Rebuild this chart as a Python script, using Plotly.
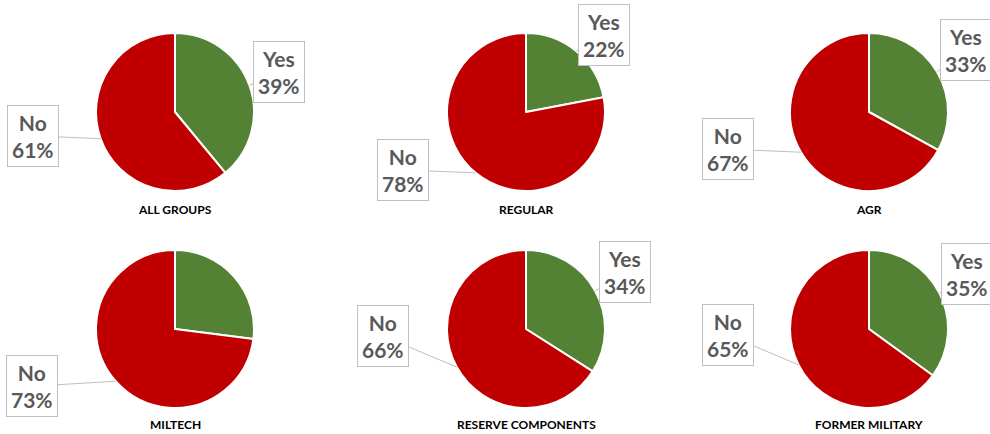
import math
import plotly.graph_objects as go

# ---------------- data ----------------
groups = ["ALL GROUPS", "REGULAR", "AGR", "MILTECH", "RESERVE COMPONENTS", "FORMER MILITARY"]
slice_labels = ["Yes", "No"]
yes_pct = [39, 22, 33, 27, 34, 35]
no_pct = [61, 78, 67, 73, 66, 65]
show_yes_label = [True, True, True, False, True, True]
show_no_label = [True, True, True, True, True, True]

# ---------------- layout / style ----------------
W, H = 990, 434
GREEN = "#548235"
RED = "#C00000"
LABEL_GREY = "#595959"
BOX_GREY = "#BFBFBF"
FONT = "Lato"

centers = [(175, 112), (526, 112), (869, 112), (175, 329), (526, 329), (869, 329)]
R = 79
title_y = [209, 209, 209, 424, 424, 424]
# pixel offsets (label centre relative to slice edge point) per panel: (yes, no)
label_offsets = [
    ((30, -13), (-68, -3)),
    ((28, -16), (-73, -3)),
    ((29, -22), (-73, -3)),
    ((29, -18), (-84, 5)),
    ((30, -19), (-74, -31)),
    ((28, -19), (-71, -30)),
]

fig = go.Figure()
annotations = []

for i, g in enumerate(groups):
    cx, cy = centers[i]
    vals = [yes_pct[i], no_pct[i]]
    fig.add_trace(go.Pie(
        labels=slice_labels,
        values=vals,
        sort=False,
        direction="clockwise",
        rotation=0,
        marker=dict(colors=[GREEN, RED], line=dict(color="white", width=2)),
        textinfo="none",
        hoverinfo="label+percent",
        showlegend=False,
        domain=dict(x=[(cx - R) / W, (cx + R) / W],
                    y=[(H - cy - R) / H, (H - cy + R) / H]),
    ))

    total = sum(vals)
    cum = 0.0
    for j, v in enumerate(vals):
        frac_mid = (cum + v / 2) / total
        cum += v
        show = show_yes_label[i] if j == 0 else show_no_label[i]
        if not show:
            continue
        theta = 2 * math.pi * frac_mid
        px = cx + R * math.sin(theta)
        py = cy - R * math.cos(theta)
        ox, oy = label_offsets[i][j]
        pct = round(100 * v / total)
        annotations.append(dict(
            x=px / W, y=(H - py) / H, xref="paper", yref="paper",
            text=f"{slice_labels[j]}<br>{pct}%",
            showarrow=True, arrowhead=0, arrowwidth=1, arrowcolor=BOX_GREY,
            ax=ox, ay=oy,
            font=dict(family=FONT, size=21, color=LABEL_GREY, weight="bold"),
            bgcolor="white", bordercolor=BOX_GREY, borderwidth=1, borderpad=4,
            align="center",
        ))

    annotations.append(dict(
        x=cx / W, y=(H - title_y[i]) / H, xref="paper", yref="paper",
        text=f"<b>{g}</b>", showarrow=False, xanchor="center", yanchor="middle",
        font=dict(family=FONT, size=12, color="#000000"),
    ))

fig.update_layout(
    width=W, height=H,
    margin=dict(l=0, r=0, t=0, b=0),
    paper_bgcolor="white",
    plot_bgcolor="white",
    annotations=annotations,
)

fig.write_html("out.html", config={"displayModeBar": False},
               post_script="document.body.style.margin='0';")
